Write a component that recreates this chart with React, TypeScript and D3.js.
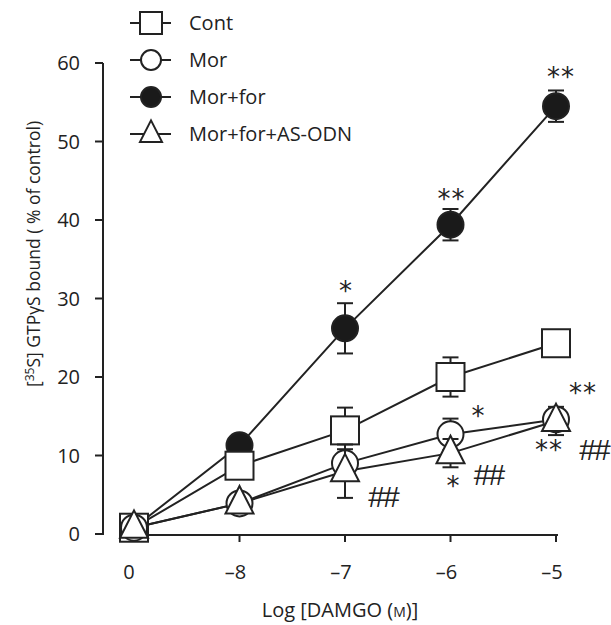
import React from 'react';
import * as d3 from 'd3';

// categories on the x axis (log DAMGO)
const doses = ['0', '–8', '–7', '–6', '–5'];

// series values (% of control) and SEM
const cont = [0.8, 8.7, 13.2, 20.0, 24.3];
const contErr = [0, 0, 2.9, 2.5, 0.8];
const mor = [0.8, 3.9, 9.0, 12.7, 14.6];
const morErr = [0, 0, 1.8, 2.0, 1.0];
const morFor = [0.8, 11.3, 26.2, 39.4, 54.5];
const morForErr = [0, 0, 3.2, 2.0, 2.0];
const asOdn = [0.8, 3.9, 8.0, 10.3, 14.4];
const asOdnErr = [0, 0, 3.4, 1.8, 1.8];

const yTicks = [0, 10, 20, 30, 40, 50, 60];

// significance marks: dose index, value anchor, offset, text
const marks = [
  { i: 2, v: 26.2, dx: 1, dy: -40, t: '*' },
  { i: 3, v: 39.4, dx: 1, dy: -29, t: '**' },
  { i: 4, v: 54.5, dx: 5, dy: -32, t: '**' },
  { i: 3, v: 12.7, dx: 28, dy: -21, t: '*' },
  { i: 3, v: 10.3, dx: 3, dy: 30, t: '*' },
  { i: 4, v: 14.6, dx: 27, dy: -29, t: '**' },
  { i: 4, v: 14.4, dx: -7, dy: 26, t: '**' },
];
const hashes = [
  { i: 2, v: 8.0, dx: 38, dy: 25 },
  { i: 3, v: 10.3, dx: 38, dy: 21 },
  { i: 4, v: 14.4, dx: 38, dy: 28 },
];

const FONT = '"Open Sans", "Noto Sans", sans-serif';

const x = d3.scalePoint<string>().domain(doses).range([134, 556]);
const y = d3.scaleLinear().domain([0, 60]).range([534, 63]);

type Shape = 'square' | 'circle' | 'filled' | 'triangle';

const Marker = ({ shape, cx, cy, s }: { shape: Shape; cx: number; cy: number; s: number }) => {
  const st = { stroke: '#222', strokeWidth: 2 };
  if (shape === 'square')
    return <rect x={cx - s / 2} y={cy - s / 2} width={s} height={s} fill="#fff" {...st} />;
  if (shape === 'circle') return <circle cx={cx} cy={cy} r={s / 2 - 1} fill="#fff" {...st} />;
  if (shape === 'filled') return <circle cx={cx} cy={cy} r={s / 2 - 1} fill="#1a1a1a" {...st} />;
  const hw = s / 2;
  const d = `M${cx},${cy - s * 0.62}L${cx + hw},${cy + s * 0.36}L${cx - hw},${cy + s * 0.36}Z`;
  return <path d={d} fill="#fff" {...st} />;
};

const series = [
  { name: 'Mor+for', vals: morFor, err: morForErr, shape: 'filled' as Shape },
  { name: 'Cont', vals: cont, err: contErr, shape: 'square' as Shape },
  { name: 'Mor', vals: mor, err: morErr, shape: 'circle' as Shape },
  { name: 'Mor+for+AS-ODN', vals: asOdn, err: asOdnErr, shape: 'triangle' as Shape },
];
const legendOrder = ['Cont', 'Mor', 'Mor+for', 'Mor+for+AS-ODN'];

export default function App() {
  const line = d3
    .line<number>()
    .x((_, i) => x(doses[i]) as number)
    .y((d) => y(d));

  return (
    <svg width={611} height={625} style={{ position: 'absolute', left: 0, top: 0, background: '#fff' }}
      fontFamily={FONT}>
      {/* y axis */}
      <line x1={103} x2={103} y1={y(60)} y2={y(0) + 1} stroke="#222" strokeWidth={2} />
      {yTicks.map((t) => (
        <g key={t}>
          <line x1={95} x2={103} y1={y(t)} y2={y(t)} stroke="#222" strokeWidth={2} />
          <text x={80} y={y(t) + 7} textAnchor="end" fontSize={20} fill="#222">{t}</text>
        </g>
      ))}
      <text transform="translate(40,254) rotate(-90)" textAnchor="middle" fontSize={17.5} fill="#222">
        [<tspan fontSize={12} dy={-6}>35</tspan><tspan dy={6}>S] GTPγS bound ( % of control)</tspan>
      </text>

      {/* x axis */}
      <line x1={x('0')} x2={(x('–5') as number) + 2} y1={535} y2={535} stroke="#222" strokeWidth={2} />
      {doses.map((d) => (
        <g key={d}>
          {d !== '0' && <line x1={x(d)} x2={x(d)} y1={535} y2={542} stroke="#222" strokeWidth={2} />}
          <text x={(x(d) as number) - (d === '0' ? 5 : 4)} y={579} textAnchor="middle" fontSize={20} fill="#222">{d}</text>
        </g>
      ))}
      <text x={340} y={617} textAnchor="middle" fontSize={20} fill="#222">
        Log [DAMGO (<tspan fontSize={14}>M</tspan>)]
      </text>

      {/* lines */}
      {series.map((s) => (
        <path key={s.name + 'l'} d={line(s.vals) || ''} fill="none" stroke="#222" strokeWidth={2} />
      ))}
      {/* series: error bars then markers */}
      {series.map((s) => (
        <g key={s.name}>
          {s.vals.map((v, i) =>
            s.err[i] > 0 ? (
              <g key={i} stroke="#222" strokeWidth={2}>
                <line x1={x(doses[i])} x2={x(doses[i])} y1={y(v + s.err[i])} y2={y(v - s.err[i])} />
                <line x1={(x(doses[i]) as number) - 8} x2={(x(doses[i]) as number) + 8} y1={y(v + s.err[i])} y2={y(v + s.err[i])} />
                <line x1={(x(doses[i]) as number) - 8} x2={(x(doses[i]) as number) + 8} y1={y(v - s.err[i])} y2={y(v - s.err[i])} />
              </g>
            ) : null
          )}
          {s.vals.map((v, i) => (
            <Marker key={i} shape={s.shape} cx={x(doses[i]) as number} cy={y(v)} s={28} />
          ))}
        </g>
      ))}

      {/* significance marks */}
      {marks.map((m, k) => (
        <text key={k} x={(x(doses[m.i]) as number) + m.dx} y={y(m.v) + m.dy + 12} textAnchor="middle"
          fontFamily='"DejaVu Sans", sans-serif' fontSize={26} fill="#222" letterSpacing={1}>{m.t}</text>
      ))}
      {hashes.map((h, k) => (
        <text key={k} x={(x(doses[h.i]) as number) + h.dx} y={y(h.v) + h.dy + 11} textAnchor="middle"
          fontFamily='"Liberation Sans", sans-serif' fontSize={30} fill="#222" letterSpacing={-2}>##</text>
      ))}

      {/* legend */}
      {legendOrder.map((name, k) => {
        const s = series.find((d) => d.name === name)!;
        const ly = 23 + k * 37;
        return (
          <g key={name}>
            <line x1={130} x2={171} y1={ly} y2={ly} stroke="#222" strokeWidth={2} />
            <Marker shape={s.shape} cx={151} cy={ly} s={22} />
            <text x={189} y={ly + 7} fontSize={20} fill="#222">{name}</text>
          </g>
        );
      })}
    </svg>
  );
}
